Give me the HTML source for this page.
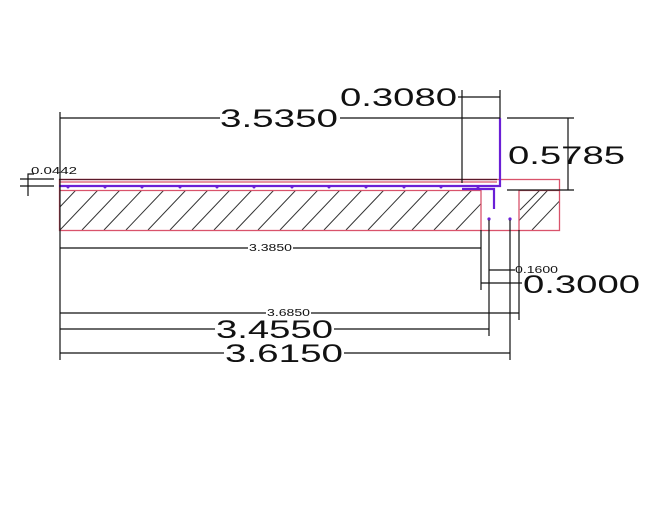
<!DOCTYPE html>
<html><head><style>
html,body{margin:0;padding:0;background:#fff;}
svg{display:block;}
text{font-family:"Liberation Sans",sans-serif;fill:#111;}
</style></head><body>
<svg width="662" height="516" viewBox="0 0 662 516" xmlns="http://www.w3.org/2000/svg">
<defs>
<clipPath id="c1"><rect x="60" y="191" width="421" height="39"/></clipPath>
<clipPath id="c2"><rect x="519" y="191" width="40" height="39"/></clipPath>
</defs>
<g stroke="#333" stroke-width="1">
<g clip-path="url(#c1)">
<path d="M60 230 L98 190 M82 230 L120 190 M104 230 L142 190 M126 230 L164 190 M148 230 L186 190 M170 230 L208 190 M192 230 L230 190 M214 230 L252 190 M236 230 L274 190 M258 230 L296 190 M280 230 L318 190 M302 230 L340 190 M324 230 L362 190 M346 230 L384 190 M368 230 L406 190 M390 230 L428 190 M412 230 L450 190 M434 230 L472 190 M456 230 L494 190 M38 230 L76 190"/>
</g>
<g clip-path="url(#c2)">
<path d="M510 230 L548 190 M532 230 L570 190 M520 210 L540 190"/>
</g>
</g>
<g fill="none" stroke="#d9536b" stroke-width="1.3">
<rect x="59.5" y="179.5" width="500" height="51"/>
<line x1="59" y1="190.5" x2="481" y2="190.5"/>
<line x1="519" y1="190.5" x2="559" y2="190.5"/>
<line x1="481" y1="190" x2="481" y2="230"/>
<line x1="519" y1="190" x2="519" y2="230"/>
<line x1="59" y1="182" x2="497" y2="182"/>
</g>
<line x1="59" y1="179.5" x2="497" y2="179.5" stroke="#5a1a2a" stroke-width="1.2"/>
<g fill="none" stroke="#6a1fd6" stroke-width="2.2">
<polyline points="59,186 500,186 500,118"/>
<polyline points="462,189 494,189 494,209"/>
</g>
<g fill="#6a1fd6">
<circle cx="68" cy="187" r="1.5"/><circle cx="105" cy="187" r="1.5"/><circle cx="142" cy="187" r="1.5"/><circle cx="180" cy="187" r="1.5"/><circle cx="217" cy="187" r="1.5"/><circle cx="254" cy="187" r="1.5"/><circle cx="292" cy="187" r="1.5"/><circle cx="329" cy="187" r="1.5"/><circle cx="366" cy="187" r="1.5"/><circle cx="404" cy="187" r="1.5"/><circle cx="441" cy="187" r="1.5"/><circle cx="478" cy="187" r="1.5"/>
<circle cx="489" cy="219" r="1.6"/><circle cx="510" cy="219" r="1.6"/>
</g>
<g stroke="#111" stroke-width="1.2" fill="none">
<line x1="60" y1="112" x2="60" y2="360"/>
<line x1="60" y1="118" x2="220" y2="118"/><line x1="340" y1="118" x2="500" y2="118"/>
<line x1="462" y1="90" x2="462" y2="183"/>
<line x1="458" y1="97" x2="500" y2="97"/>
<line x1="500" y1="90" x2="500" y2="118"/>
<line x1="507" y1="118" x2="574" y2="118"/>
<line x1="507" y1="190" x2="574" y2="190"/>
<line x1="568" y1="118" x2="568" y2="190"/>
<line x1="60" y1="248" x2="248" y2="248"/><line x1="293" y1="248" x2="481" y2="248"/>
<line x1="481" y1="230" x2="481" y2="290"/>
<line x1="489" y1="220" x2="489" y2="336"/>
<line x1="510" y1="220" x2="510" y2="360"/>
<line x1="519" y1="230" x2="519" y2="320"/>
<line x1="489" y1="270" x2="515" y2="270"/>
<line x1="481" y1="283" x2="522" y2="283"/>
<line x1="60" y1="313" x2="266" y2="313"/><line x1="311" y1="313" x2="519" y2="313"/>
<line x1="60" y1="329" x2="215" y2="329"/><line x1="334" y1="329" x2="489" y2="329"/>
<line x1="60" y1="353" x2="224" y2="353"/><line x1="344" y1="353" x2="510" y2="353"/>
<line x1="20" y1="179" x2="54" y2="179"/>
<line x1="20" y1="186" x2="54" y2="186"/>
<polyline points="34,174 28,174 28,196"/>
</g>
<g font-size="25" lengthAdjust="spacingAndGlyphs">
<text x="220" y="127" textLength="118" lengthAdjust="spacingAndGlyphs">3.5350</text>
<text x="340" y="106" textLength="117" lengthAdjust="spacingAndGlyphs">0.3080</text>
<text x="508" y="164" textLength="117" lengthAdjust="spacingAndGlyphs">0.5785</text>
<text x="523" y="293" textLength="117" lengthAdjust="spacingAndGlyphs">0.3000</text>
<text x="216" y="338" textLength="117" lengthAdjust="spacingAndGlyphs">3.4550</text>
<text x="225" y="362" textLength="118" lengthAdjust="spacingAndGlyphs">3.6150</text>
</g>
<text x="249" y="251" font-size="10" textLength="43" lengthAdjust="spacingAndGlyphs">3.3850</text>
<text x="267" y="316" font-size="10" textLength="43" lengthAdjust="spacingAndGlyphs">3.6850</text>
<text x="515" y="273" font-size="10" textLength="43" lengthAdjust="spacingAndGlyphs">0.1600</text>
<text x="31" y="174" font-size="10" textLength="46" lengthAdjust="spacingAndGlyphs">0.0442</text>
</svg>
</body></html>
